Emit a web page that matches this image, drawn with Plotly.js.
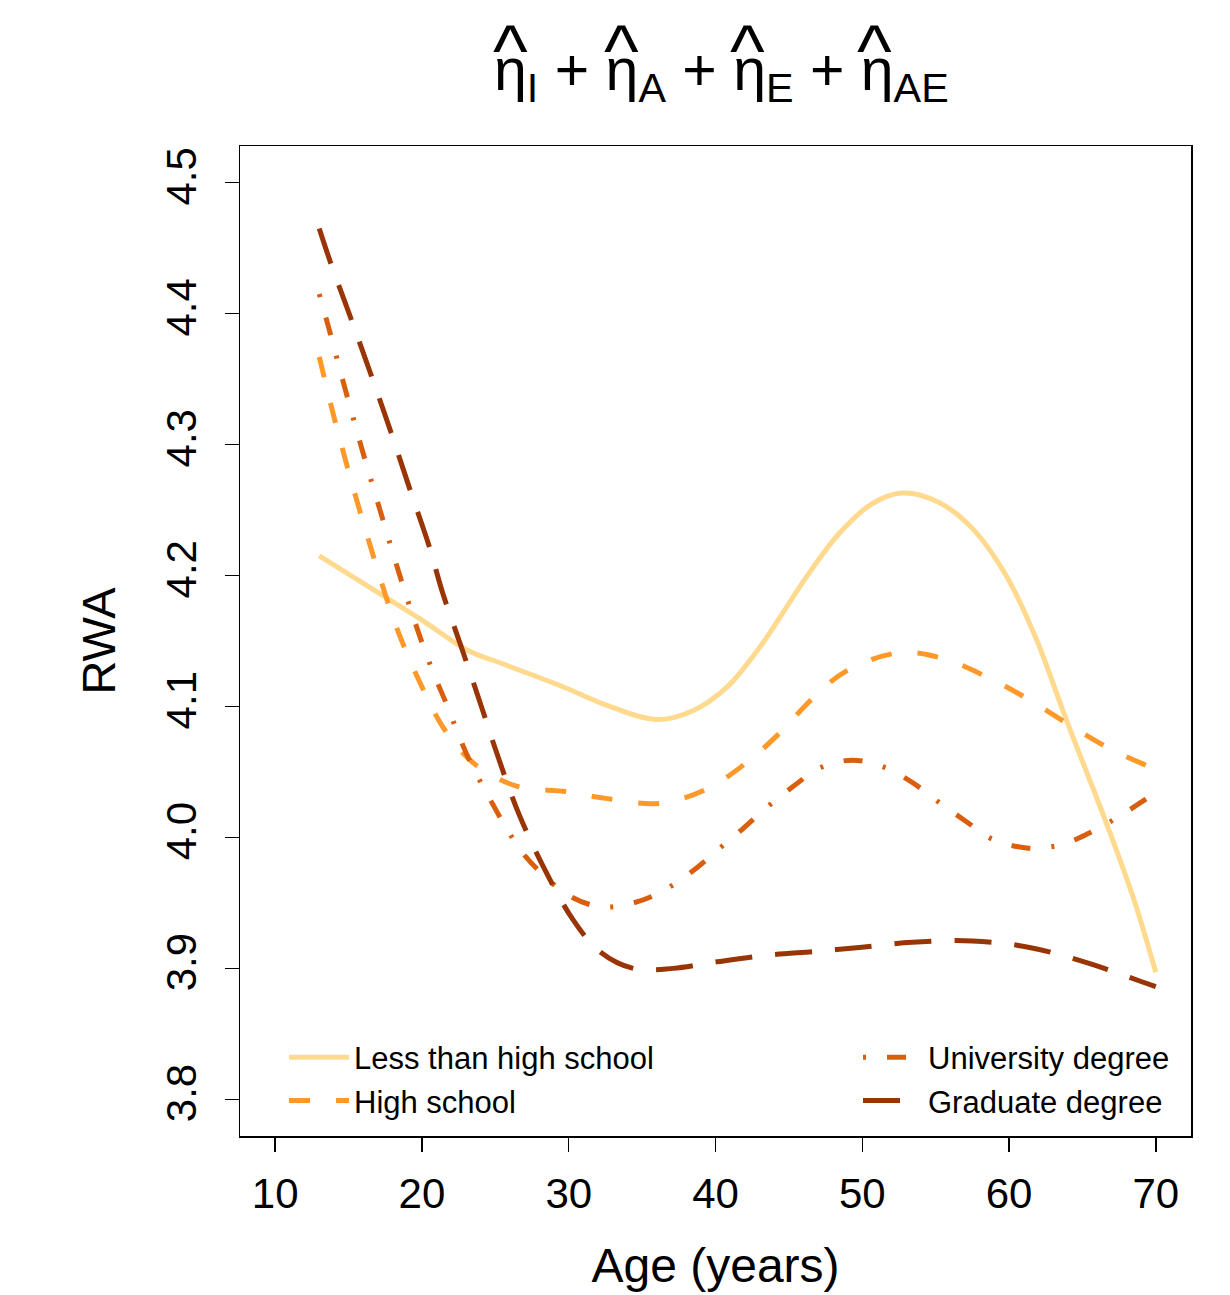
<!DOCTYPE html>
<html>
<head>
<meta charset="utf-8">
<script src="https://cdn.plot.ly/plotly-3.0.1.min.js"></script>
<style>html,body{margin:0;padding:0;background:#fff;}#chart{width:1230px;height:1295px;}</style>
</head>
<body>
<div id="chart"></div>
<script>
const seriesNames = ["Less than high school", "High school", "University degree", "Graduate degree"];
const seriesColors = ["#FED98E", "#FE9929", "#D95F0E", "#993404"];

const lessAge = [13, 15, 18, 20, 23.1, 25.4, 29.4, 32.8, 36, 38.5, 40.8, 43, 44.5, 46.2, 48.5, 50.7, 52.7, 55.2, 57.5, 59.8, 61.8, 63.9, 66.8, 68.5, 70];
const lessRWA = [4.215, 4.201, 4.180, 4.166, 4.143, 4.133, 4.116, 4.100, 4.090, 4.097, 4.115, 4.145, 4.170, 4.199, 4.233, 4.255, 4.263, 4.256, 4.236, 4.200, 4.153, 4.090, 4.006, 3.953, 3.897];

const highAge = [13, 14.1, 15.8, 17.9, 18.7, 20, 21.5, 23.6, 26.5, 29.8, 32.4, 36.2, 39.4, 42.1, 44.4, 46.6, 48.9, 52.5, 55.4, 58.6, 61.4, 64.1, 67, 70];
const highRWA = [4.367, 4.317, 4.248, 4.172, 4.148, 4.115, 4.083, 4.056, 4.039, 4.035, 4.030, 4.026, 4.037, 4.057, 4.080, 4.106, 4.127, 4.141, 4.137, 4.122, 4.105, 4.086, 4.067, 4.052];

const uniAge = [13, 13.6, 14.8, 16, 17.3, 18.6, 19.9, 20.8, 21.7, 22.5, 23.4, 24.5, 25.6, 26.8, 28.3, 30.1, 32.2, 34.4, 36.4, 38.4, 40.1, 41.8, 43.5, 45.3, 47.1, 49.3, 51.4, 53.4, 55.2, 57.1, 58.8, 61.2, 63.4, 65.4, 67.5, 69.3, 70];
const uniRWA = [4.415, 4.391, 4.341, 4.293, 4.244, 4.196, 4.152, 4.125, 4.101, 4.078, 4.055, 4.032, 4.010, 3.989, 3.971, 3.955, 3.947, 3.950, 3.959, 3.974, 3.990, 4.006, 4.023, 4.039, 4.053, 4.059, 4.054, 4.042, 4.027, 4.012, 3.999, 3.992, 3.994, 4.003, 4.016, 4.029, 4.034];

const gradAge = [13, 13.8, 15.2, 16.6, 17.9, 19.2, 20.5, 21.4, 22.6, 23.9, 25.2, 26.6, 28.3, 30.3, 32.1, 34.4, 37.1, 40.1, 43.5, 46.9, 49.8, 53.4, 57.5, 61.4, 65.4, 69, 70];
const gradRWA = [4.465, 4.438, 4.395, 4.351, 4.309, 4.265, 4.222, 4.187, 4.148, 4.105, 4.061, 4.018, 3.977, 3.937, 3.913, 3.900, 3.900, 3.905, 3.910, 3.913, 3.916, 3.920, 3.921, 3.916, 3.904, 3.890, 3.886];

const xTicks = [10, 20, 30, 40, 50, 60, 70];
const yTicks = [3.8, 3.9, 4.0, 4.1, 4.2, 4.3, 4.4, 4.5];
const yTickText = ["3.8", "3.9", "4.0", "4.1", "4.2", "4.3", "4.4", "4.5"];

const titleText = "η<sub>I</sub> + η<sub>A</sub> + η<sub>E</sub> + η<sub>AE</sub>";
const hatX = [510, 621, 747, 874]; // pixel centres of the four hats

const dashes = ["solid", "21px,26px", "3px,21px,19px,21px", "37px,23px"];
const legendOf = ["legend", "legend", "legend2", "legend2"];
const xs = [lessAge, highAge, uniAge, gradAge];
const ys = [lessRWA, highRWA, uniRWA, gradRWA];

const traces = seriesNames.map((n, i) => ({
  type: "scatter", mode: "lines", name: n,
  x: xs[i], y: ys[i],
  line: {color: seriesColors[i], width: 5, dash: dashes[i], shape: "spline", smoothing: 1},
  legend: legendOf[i]
}));

const font = "Liberation Sans, Arial, sans-serif";
const L = 240, R = 1191, T = 146, B = 1136;
const px2x = p => (p - L) / (R - L);
const py2y = p => (B - p) / (B - T);

const annotations = [
  {text: titleText, xref: "paper", yref: "paper", x: px2x(721), y: py2y(74),
   xanchor: "center", yanchor: "middle", showarrow: false,
   font: {size: 59, family: font, color: "#000"}}
].concat(hatX.map(h => ({
  text: "^", xref: "paper", yref: "paper", x: px2x(h), y: py2y(50),
  xanchor: "center", yanchor: "middle", showarrow: false,
  font: {size: 74, family: font, color: "#000"}
})));

const legendCommon = {
  orientation: "v", yanchor: "middle", xanchor: "left", itemwidth: 60,
  font: {size: 31, family: font}, bgcolor: "rgba(0,0,0,0)", tracegroupgap: 0
};

const layout = {
  width: 1230, height: 1295,
  margin: {l: L, r: 1230 - R, t: T, b: 1295 - B},
  paper_bgcolor: "#fff", plot_bgcolor: "#fff",
  font: {family: font, color: "#000"},
  xaxis: {
    range: [7.6, 72.4], tickvals: xTicks, ticktext: xTicks.map(String),
    ticks: "outside", ticklen: 14, tickwidth: 1.5, tickcolor: "#000",
    showline: true, linecolor: "#000", linewidth: 1.5, mirror: true,
    showgrid: false, zeroline: false,
    tickfont: {size: 42, family: font}, ticklabelstandoff: 6,
    title: {text: "Age (years)", font: {size: 48, family: font}, standoff: 32}
  },
  yaxis: {
    range: [3.772, 4.528], tickvals: yTicks, ticktext: yTickText,
    ticks: "outside", ticklen: 14, tickwidth: 1.5, tickcolor: "#000",
    showline: true, linecolor: "#000", linewidth: 1.5, mirror: true,
    showgrid: false, zeroline: false, tickangle: -90,
    tickfont: {size: 42, family: font}, ticklabelstandoff: 12,
    title: {text: "RWA", font: {size: 47, family: font}, standoff: 27}
  },
  showlegend: true,
  legend: Object.assign({}, legendCommon, {x: px2x(284), y: py2y(1079)}),
  legend2: Object.assign({}, legendCommon, {x: px2x(858), y: py2y(1079)}),
  annotations: annotations
};

Plotly.newPlot("chart", traces, layout, {displayModeBar: false, staticPlot: true});
</script>
</body>
</html>
